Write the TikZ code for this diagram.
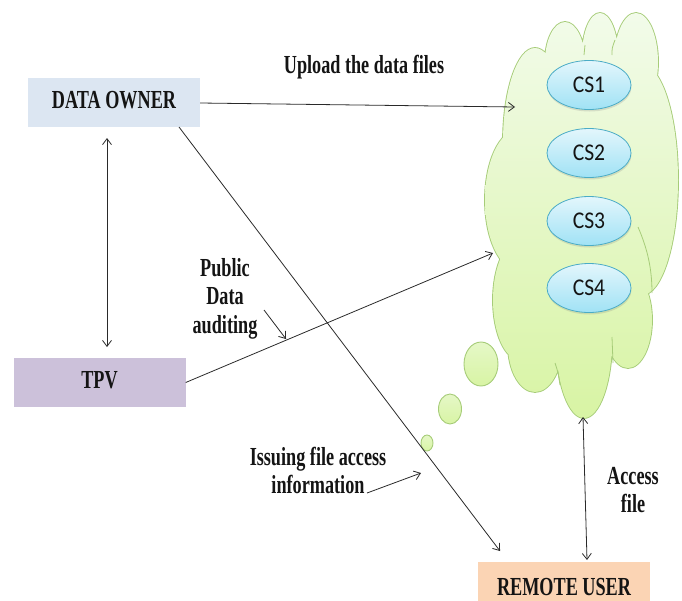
\documentclass[tikz,border=0pt]{standalone}
\usepackage{fontspec}
\setmainfont{Liberation Serif}
\newfontfamily\csfont{Carlito}
\usetikzlibrary{arrows.meta,shapes.geometric,shadows}
\definecolor{dobox}{HTML}{DCE6F2}
\definecolor{tpvbox}{HTML}{CCC1DA}
\definecolor{rubox}{HTML}{FBD4B4}
\definecolor{cloudedge}{HTML}{A6CC78}
\definecolor{cloudtop}{HTML}{F2FBEA}
\definecolor{cloudbot}{HTML}{D8F4A4}
\definecolor{cstop}{HTML}{E3F6FC}
\definecolor{csbot}{HTML}{A0E2F5}
\definecolor{csedge}{HTML}{4BACC6}
\definecolor{linec}{HTML}{2A2A2A}
\definecolor{txt}{HTML}{141414}
\newcommand{\ctext}[1]{\scalebox{0.7}[1]{\begin{tabular}{@{}c@{}}#1\end{tabular}}}
\newcommand{\cstext}[1]{\scalebox{0.9}[1]{#1}}
\begin{document}
\begin{tikzpicture}[x=1pt,y=-1pt,
  lbl/.style={font=\fontsize{26}{28.5}\selectfont\bfseries, text=txt, inner sep=0pt},
  actor/.style={lbl, draw=none, minimum width=172pt},
  conn/.style={draw=linec, line width=0.8pt, -{Straight Barb[length=6pt,width=9pt]}},
  dconn/.style={draw=linec, line width=0.8pt, {Straight Barb[length=6pt,width=9pt]}-{Straight Barb[length=6pt,width=9pt]}},
  csnode/.style={ellipse, draw=csedge, line width=0.8pt, top color=cstop, bottom color=csbot,
     minimum width=84pt, minimum height=49pt, inner sep=0pt, text=txt,
     font=\csfont\fontsize{24}{26}\selectfont,
     drop shadow={opacity=0.22, shadow xshift=0.5pt, shadow yshift=-2pt}},
  bubble/.style={draw=cloudedge, line width=0.9pt, top color=cloudtop!50!cloudbot, bottom color=cloudbot},
  cloudin/.style={draw=cloudedge, line width=0.8pt}
]
\useasboundingbox (0,0) rectangle (682,600);
\clip (0,0) rectangle (682,600);

% cloud: outline then fill (union of lobes)
\draw[cloudedge, line width=1.8pt]
  (565,62) ellipse [x radius=20, y radius=40]
  (600,56) ellipse [x radius=18, y radius=43]
  (636,62) ellipse [x radius=22, y radius=49]
  (535,142) ellipse [x radius=32, y radius=94]
  (642,180) ellipse [x radius=36, y radius=115]
  (518,200) ellipse [x radius=33, y radius=70]
  (520,300) ellipse [x radius=27, y radius=60]
  (535,345) ellipse [x radius=27, y radius=47]
  (628,320) ellipse [x radius=24, y radius=48]
  (584,340) ellipse [x radius=28, y radius=78]
  (588,215) ellipse [x radius=70, y radius=150];
\shade[top color=cloudtop, bottom color=cloudbot]
  (565,62) ellipse [x radius=20, y radius=40]
  (600,56) ellipse [x radius=18, y radius=43]
  (636,62) ellipse [x radius=22, y radius=49]
  (535,142) ellipse [x radius=32, y radius=94]
  (642,180) ellipse [x radius=36, y radius=115]
  (518,200) ellipse [x radius=33, y radius=70]
  (520,300) ellipse [x radius=27, y radius=60]
  (535,345) ellipse [x radius=27, y radius=47]
  (628,320) ellipse [x radius=24, y radius=48]
  (584,340) ellipse [x radius=28, y radius=78]
  (588,215) ellipse [x radius=70, y radius=150];
% faint inner lobe lines
\draw[cloudin] (555,363) .. controls (558,372) .. (560,385);
\draw[cloudin] (612,337) .. controls (613,350) .. (613,363);
\draw[cloudin] (638,227) .. controls (648,250) and (652,270) .. (652,293);
\draw[cloudin] (615,40) .. controls (612,48) .. (612,55);
\draw[cloudin] (585,45) .. controls (584,50) .. (584,55);

% thought bubbles
\path[bubble] (427,443) ellipse [x radius=6, y radius=8];
\path[bubble] (450,409) ellipse [x radius=11.5, y radius=15];
\path[bubble] (481,364) ellipse [x radius=17, y radius=22];

% cloud servers
\node[csnode] (cs1) at (589,85) {\cstext{CS1}};
\node[csnode] (cs2) at (589,153) {\cstext{CS2}};
\node[csnode] (cs3) at (589,221) {\cstext{CS3}};
\node[csnode] (cs4) at (589,288) {\cstext{CS4}};

% actors
\node[actor, fill=dobox, minimum height=49pt] (do) at (114,102.5) {\ctext{DATA OWNER}};
\node[actor, fill=tpvbox, minimum height=49pt] (tpv) at (99.5,382.5) {\ctext{TPV}};
\node[actor, fill=rubox, minimum height=56pt] (ru) at (564,590) {\ctext{REMOTE USER}};

% labels
\node[lbl] (up) at (364,68) {\ctext{Upload the data files}};
\node[lbl] (pub) at (225,299) {\ctext{Public\\Data\\auditing}};
\node[lbl] (iss) at (318,474) {\ctext{Issuing file access\\information}};
\node[lbl] (acc) at (633,493) {\ctext{Access\\file}};

% connector anchor points
\coordinate (cloudA) at (515,107);
\coordinate (cloudB) at (493,253);
\coordinate (cloudC) at (583,417);
\coordinate (doB) at (107,138);
\coordinate (tpvT) at (107,347);
\coordinate (doS) at (179,127);
\coordinate (ruT) at (500,551);
\coordinate (ruT2) at (587,560);
\coordinate (pubS) at (264,310);
\coordinate (pubE) at (286,339);
\coordinate (issS) at (367,493);
\coordinate (issE) at (421,473);

% connectors
\draw[conn] (do.east |- 0,103) -- (cloudA);
\draw[dconn] (doB) -- (tpvT);
\draw[conn] (tpv.east) -- (cloudB);
\draw[conn] (doS) -- (ruT);
\draw[dconn] (cloudC) -- (ruT2);
\draw[conn] (pubS) -- (pubE);
\draw[conn] (issS) -- (issE);
\end{tikzpicture}
\end{document}
